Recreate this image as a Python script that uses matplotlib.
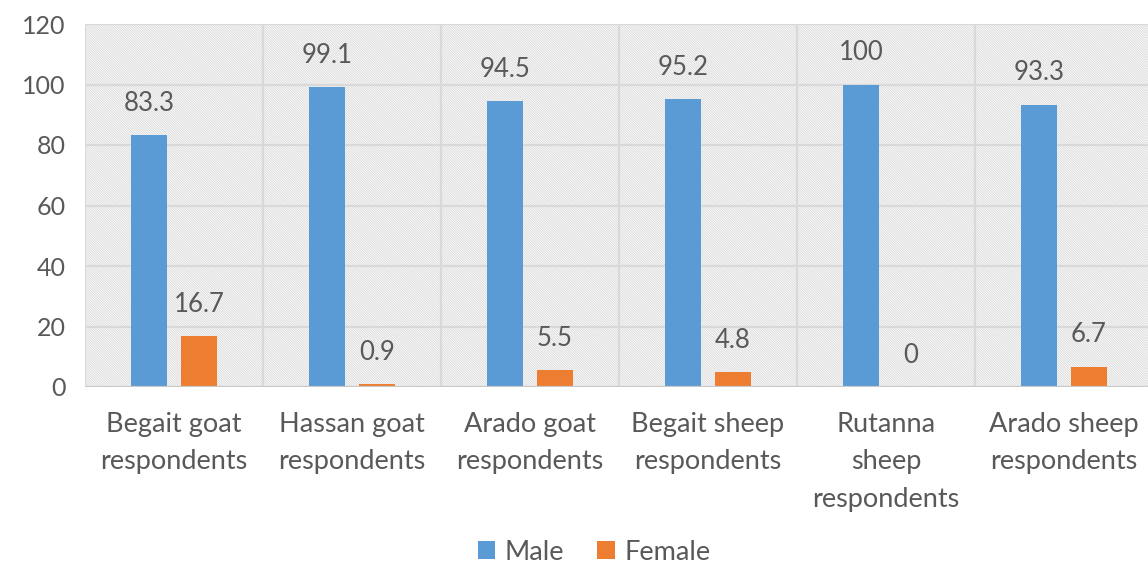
import matplotlib
matplotlib.use("Agg")
import matplotlib.pyplot as plt
from matplotlib.patches import Rectangle, Patch
import numpy as np

categories = [
    "Begait goat\nrespondents",
    "Hassan goat\nrespondents",
    "Arado goat\nrespondents",
    "Begait sheep\nrespondents",
    "Rutanna\nsheep\nrespondents",
    "Arado sheep\nrespondents",
]
male = [83.3, 99.1, 94.5, 95.2, 100, 93.3]
female = [16.7, 0.9, 5.5, 4.8, 0, 6.7]
y_ticks = [0, 20, 40, 60, 80, 100, 120]

MALE_COLOR = "#5b9bd5"
FEMALE_COLOR = "#ed7d31"
TEXT_COLOR = "#595959"
GRID_COLOR = "#d9d9d9"

plt.rcParams["font.family"] = ["Lato", "DejaVu Sans"]
plt.rcParams["hatch.linewidth"] = 0.7

fig = plt.figure(figsize=(11.48, 5.63), dpi=100)
ax = fig.add_axes([85 / 1148, 176 / 563, 1068 / 1148, 363 / 563])

x = np.arange(len(categories))
w = 0.2
off = 0.14

# hatched plot background
bg = Rectangle((0, 0), 1, 1, transform=ax.transAxes, facecolor="white",
               edgecolor="#dcdcdc", hatch="\\" * 14, linewidth=0, zorder=0)
ax.add_patch(bg)
ax.patch.set_visible(False)

# grid: horizontal value lines and vertical category dividers
for yv in y_ticks[1:]:
    ax.axhline(yv, color=GRID_COLOR, lw=1.6, zorder=1)
for xv in np.arange(-0.5, len(categories) + 0.5, 1.0):
    ax.axvline(xv, color=GRID_COLOR, lw=1.6, zorder=1)
ax.axhline(0, color="#c8c8c8", lw=1.6, zorder=3)

bm = ax.bar(x - off, male, w, color=MALE_COLOR, zorder=2)
bf = ax.bar(x + off, female, w, color=FEMALE_COLOR, zorder=2)

for bars, vals in ((bm, male), (bf, female)):
    for b, v in zip(bars, vals):
        ax.annotate(f"{v:g}", (b.get_x() + b.get_width() / 2, v),
                    xytext=(0, 14), textcoords="offset points",
                    ha="center", va="bottom", fontsize=18.5, color=TEXT_COLOR)

ax.set_xlim(-0.5, len(categories) - 0.5)
ax.set_ylim(0, 120)
ax.set_yticks(y_ticks)
ax.set_yticklabels([str(t) for t in y_ticks], fontsize=18)
ax.set_xticks(x)
ax.set_xticklabels(categories, linespacing=1.62, fontsize=19.5)
ax.tick_params(axis="both", length=0, labelcolor=TEXT_COLOR)
ax.tick_params(axis="y", pad=14)
ax.tick_params(axis="x", pad=18)
for s in ax.spines.values():
    s.set_visible(False)

handles = [Patch(facecolor=MALE_COLOR, label="Male"),
           Patch(facecolor=FEMALE_COLOR, label="Female")]
fig.legend(handles=handles, loc="center", bbox_to_anchor=(594 / 1148, 1 - 552 / 563),
           ncol=2, frameon=False, fontsize=19.5, labelcolor=TEXT_COLOR,
           handlelength=0.65, handleheight=0.65, handletextpad=0.35, columnspacing=1.2)

fig.savefig("out.png", dpi=100)
